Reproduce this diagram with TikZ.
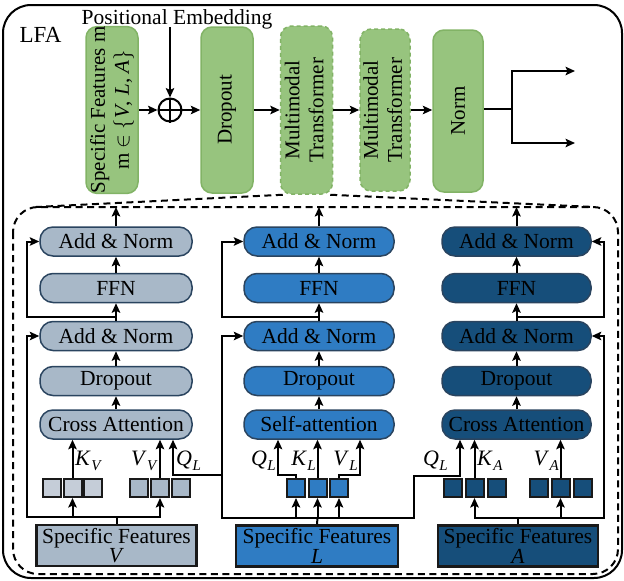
\documentclass[tikz,border=0pt]{standalone}
\usepackage{fontspec}
\setmainfont{Liberation Serif}
\usetikzlibrary{arrows.meta}
\definecolor{cVl}{RGB}{197,205,216}
\definecolor{cV}{RGB}{168,184,200}
\definecolor{cL}{RGB}{47,124,195}
\definecolor{cA}{RGB}{22,78,122}
\definecolor{bP}{RGB}{42,68,95}
\definecolor{gfill}{RGB}{151,196,126}
\definecolor{gdraw}{RGB}{130,179,102}
\newcommand{\qkv}[2]{\textit{#1}\kern0.5pt\raisebox{-5pt}{\fontsize{15}{15}\selectfont\textit{#2}}}
\tikzset{
  arr/.style={-{Stealth[length=9.5pt,width=8.5pt,inset=2pt]}, line width=2pt},
  ln/.style={line width=2pt},
  pill/.style={rounded corners=13pt, minimum height=29pt, inner sep=0pt, line width=1.5pt, draw=bP, font=\fontsize{21.5}{24}\selectfont},
  pillV/.style={pill, fill=cV, minimum width=152pt},
  pillL/.style={pill, fill=cL, minimum width=150pt},
  pillA/.style={pill, fill=cA, minimum width=149pt},
  sq/.style={draw=black!90, line width=2pt, minimum size=18pt, inner sep=0pt},
  feat/.style={draw=black!90, line width=2.5pt, minimum height=41pt, inner sep=0pt, align=center, font=\fontsize{21.5}{17}\selectfont},
  gbox/.style={fill=gfill, draw=gdraw, line width=1.5pt, rounded corners=11pt, minimum width=52pt, minimum height=166pt, inner sep=0pt, font=\fontsize{21}{24}\selectfont},
  gdash/.style={gbox, dash pattern=on 4pt off 3pt},
  lab/.style={inner sep=0pt, font=\fontsize{22}{22}\selectfont},
  dsh/.style={line width=2pt, dash pattern=on 7pt off 4.5pt}
}
\begin{document}
\begin{tikzpicture}[x=1pt,y=-1pt]
\useasboundingbox (0,0) rectangle (624,581);
% outer frame
\draw[line width=2pt, rounded corners=28pt] (3,5) rectangle (622,578);
\node[inner sep=0pt, anchor=base, font=\fontsize{23}{24}\selectfont] (lfa) at (40.5,42) {LFA};
\node[inner sep=0pt, anchor=base, font=\fontsize{21.5}{24}\selectfont] (pe) at (177,24) {Positional Embedding};

% top row
\node[gbox] (g1) at (112,110) {\rotatebox{90}{\begin{tabular}{@{}c@{}}Specific Features m\\m $\in$ $\{$\textit{V}, \textit{L}, \textit{A}$\}$\end{tabular}}};
\node[circle, draw, line width=2pt, minimum size=23pt, inner sep=0pt] (op) at (170,110) {};
\draw[line width=2pt] (op.north) -- (op.south) (op.west) -- (op.east);
\node[gbox] (dr) at (227,110) {\rotatebox{90}{Dropout}};
\node[gdash, minimum height=168pt] (mt1) at (306.5,110) {\rotatebox{90}{\begin{tabular}{@{}c@{}}Multimodal\\Transformer\end{tabular}}};
\node[gdash, minimum width=50pt, minimum height=162pt] (mt2) at (385,110) {\rotatebox{90}{\begin{tabular}{@{}c@{}}Multimodal\\Transformer\end{tabular}}};
\node[gbox, minimum width=50pt, minimum height=162pt] (nm) at (458,111) {\rotatebox{90}{Norm}};

\coordinate (peb) at (170,27);
\draw[arr] (peb) -- (op.north);
\draw[arr] (g1) -- (op);
\draw[arr] (op) -- (dr);
\draw[arr] (dr) -- (mt1);
\draw[arr] (mt1) -- (mt2);
\draw[arr] (mt2.east |- 0,110) -- (nm.west |- 0,110);
\coordinate (oj) at (512,109);
\coordinate (o1) at (575,71);
\coordinate (o2) at (575,143);
\draw[ln] (nm.east |- oj) -- (oj);
\draw[arr] (oj) |- (o1);
\draw[arr] (oj) |- (o2);

% dashed zoom region
\draw[dsh, rounded corners=25pt] (13,207) rectangle (618,574);
\draw[dsh] ([xshift=3pt]mt1.south west) -- (36,207);
\draw[dsh] ([xshift=-3pt]mt1.south east) -- (594,207);
\coordinate (top) at (0,207);

% ===== V column =====
\node[pillV] (anV1) at (116,241.5) {Add \& Norm};
\node[pillV] (ffV) at (116,288) {FFN};
\node[pillV] (anV2) at (116,336) {Add \& Norm};
\node[pillV] (doV) at (116,381) {Dropout};
\node[pillV] (caV) at (116,424.5) {Cross Attention};
\node[sq, fill=cVl] (sV1) at (52,488) {};
\node[sq, fill=cVl] (sV2) at (72.5,488) {};
\node[sq, fill=cVl] (sV3) at (93,488) {};
\node[sq, fill=cV] (sV4) at (139,488) {};
\node[sq, fill=cV] (sV5) at (160,488) {};
\node[sq, fill=cV] (sV6) at (181,488) {};
\node[feat, fill=cV, minimum width=160pt] (fV) at (116.5,545.5) {Specific Features\\\textit{V}};

% ===== L column =====
\node[pillL] (anL1) at (319,241.5) {Add \& Norm};
\node[pillL] (ffL) at (319,288) {FFN};
\node[pillL] (anL2) at (319,336) {Add \& Norm};
\node[pillL] (doL) at (319,381) {Dropout};
\node[pillL] (caL) at (319,424.5) {Self-attention};
\node[sq, fill=cL] (sL1) at (296,488) {};
\node[sq, fill=cL] (sL2) at (317.5,488) {};
\node[sq, fill=cL] (sL3) at (339,488) {};
\node[feat, fill=cL, minimum width=162pt] (fL) at (317,546) {Specific Features\\\textit{L}};

% ===== A column =====
\node[pillA] (anA1) at (516.5,241.5) {Add \& Norm};
\node[pillA] (ffA) at (516.5,288) {FFN};
\node[pillA] (anA2) at (516.5,336) {Add \& Norm};
\node[pillA] (doA) at (516.5,381) {Dropout};
\node[pillA] (caA) at (516.5,424.5) {Cross Attention};
\node[sq, fill=cA] (sA1) at (453,488) {};
\node[sq, fill=cA] (sA2) at (474.5,488) {};
\node[sq, fill=cA] (sA3) at (496.5,488) {};
\node[sq, fill=cA] (sA4) at (538.5,488) {};
\node[sq, fill=cA] (sA5) at (560.5,488) {};
\node[sq, fill=cA] (sA6) at (582.5,488) {};
\node[feat, fill=cA, minimum width=160pt] (fA) at (518,546) {Specific Features\\\textit{A}};

% vertical stacks
\foreach \c in {V,L,A}{
  \draw[arr] (ca\c.north) -- (do\c.south);
  \draw[arr] (do\c.north) -- (an\c2.south);
  \draw[arr] (an\c2.north) -- (ff\c.south);
  \draw[arr] (ff\c.north) -- (an\c1.south);
  \draw[arr] (an\c1.north) -- (an\c1.north |- top);
}

% V wiring
\coordinate (jV) at (116.5,517);
\coordinate (lV) at (27,517);
\draw[ln] (fV.north) -- (jV);
\draw[arr] (jV) -| (sV2.south);
\draw[arr] (jV) -| (sV5.south);
\draw[arr] (jV) -- (lV) |- (anV2.west);
\path (anV2.north) ++(0,-4) coordinate (uV);
\draw[arr] (uV) -- (uV -| lV) |- (anV1.west);
\draw[arr] (sV2.north) -- (caV.south -| sV2.north);
\draw[arr] (sV5.north) -- (caV.south -| sV5.north);

% L wiring
\coordinate (jL) at (317.5,518);
\coordinate (lL) at (222,518);
\coordinate (rL) at (414,518);
\coordinate (qV) at (173,475);
\coordinate (qA) at (460,476);
\coordinate (xQL) at (278,0);
\coordinate (xVL) at (360,0);
\draw[ln] (fL.north) -- (jL);
\draw[arr] (jL) -| (sL1.south);
\draw[arr] (jL) -- (sL2.south);
\draw[arr] (jL) -| (sL3.south);
\draw[arr] (jL) -- (lL) |- (anL2.west);
\path (anL2.north) ++(0,-4) coordinate (uL);
\draw[arr] (uL) -- (uL -| lL) |- (anL1.west);
\draw[arr] (lL |- qV) -- (qV) -- (caV.south -| qV);
\draw[arr] (jL) -- (rL) |- (qA) -- (caA.south -| qA);
\draw[arr] (sL1.north) -- ++(0,-3) -| (caL.south -| xQL);
\draw[arr] (sL2.north) -- (caL.south -| sL2.north);
\draw[arr] (sL3.north) -- ++(0,-3) -| (caL.south -| xVL);

% A wiring
\coordinate (jA) at (518,518);
\coordinate (rA) at (604,518);
\draw[ln] (fA.north) -- (jA);
\draw[arr] (jA) -| (sA2.south);
\draw[arr] (jA) -| (sA5.south);
\draw[arr] (jA) -- (rA) |- (anA2.east);
\path (anA2.north) ++(0,-4) coordinate (uA);
\draw[arr] (uA) -- (uA -| rA) |- (anA1.east);
\draw[arr] (sA2.north) -- (caA.south -| sA2.north);
\draw[arr] (sA5.north) -- (caA.south -| sA5.north);

% labels
\node[lab, anchor=base west] (lKV) at (75,465) {\qkv{K}{V}};
\node[lab, anchor=base east] (lVV) at (158,465) {\qkv{V}{V}};
\node[lab, anchor=base west] (lQV) at (176,465) {\qkv{Q}{L}};
\node[lab, anchor=base east] (lQL) at (276,465) {\qkv{Q}{L}};
\node[lab, anchor=base east] (lKL) at (316,465) {\qkv{K}{L}};
\node[lab, anchor=base east] (lVL) at (358,465) {\qkv{V}{L}};
\node[lab, anchor=base east] (lQA) at (448,465) {\qkv{Q}{L}};
\node[lab, anchor=base west] (lKA) at (477,465) {\qkv{K}{A}};
\node[lab, anchor=base east] (lVA) at (559,465) {\qkv{V}{A}};
\end{tikzpicture}
\end{document}
